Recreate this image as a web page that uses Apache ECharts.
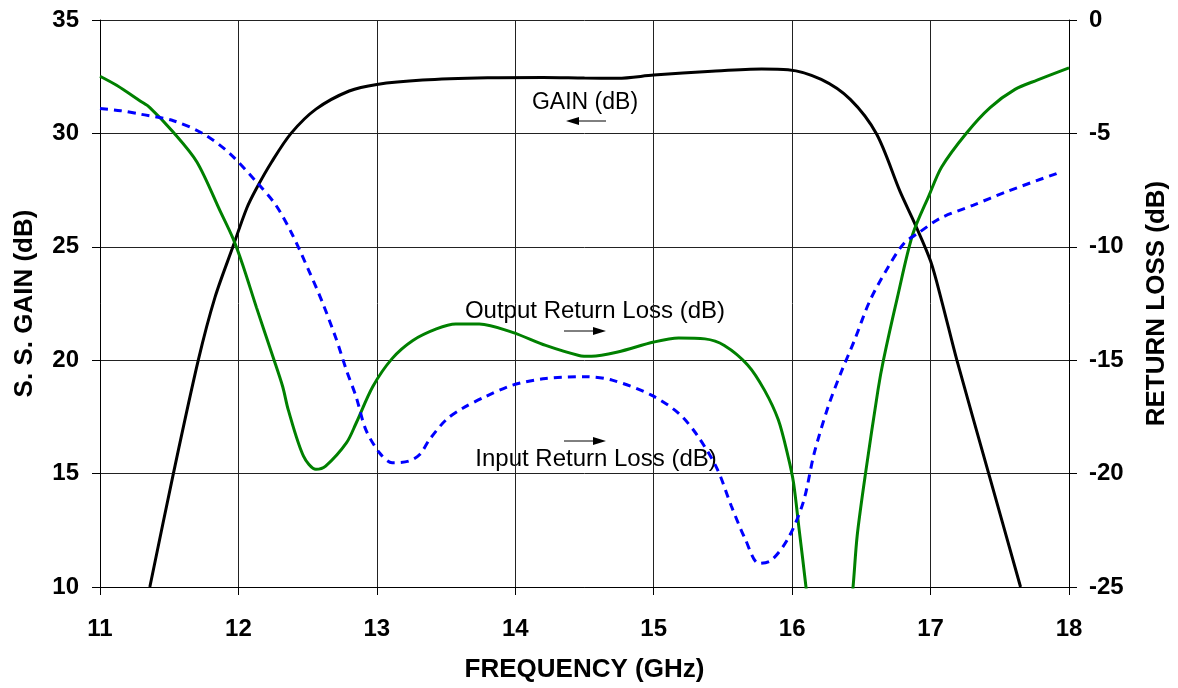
<!DOCTYPE html>
<html>
<head>
<meta charset="utf-8">
<script src="https://cdn.jsdelivr.net/npm/echarts@6/dist/echarts.min.js"></script>
<style>
html,body{margin:0;padding:0;background:#fff;}
#chart{width:1178px;height:688px;}
</style>
</head>
<body>
<div id="chart"></div>
<script>
// Frequency ticks
const freqTicks = [11, 12, 13, 14, 15, 16, 17, 18];
const gainTicks = [10, 15, 20, 25, 30, 35];
const rlTicks = [-25, -20, -15, -10, -5, 0];

// S.S. Gain (dB) — left axis
const gainFreq = [11.36, 11.53, 11.71, 11.83, 11.96, 12.06, 12.13, 12.24, 12.38, 12.56, 12.80, 13.0, 13.33, 13.8, 14.2, 14.5, 14.74, 15.0, 15.42, 15.78, 15.97, 16.21, 16.42, 16.61, 16.78, 16.89, 17.0, 17.08, 17.19, 17.42, 17.65];
const gainVals = [10.0, 15.0, 20.0, 22.76, 25.0, 26.7, 27.57, 28.74, 30.0, 31.07, 31.87, 32.16, 32.35, 32.45, 32.47, 32.44, 32.43, 32.57, 32.74, 32.84, 32.81, 32.38, 31.5, 29.97, 27.43, 25.97, 24.37, 22.62, 20.0, 15.0, 10.0];

// Output Return Loss (dB) — right axis
const outFreq = [11.0, 11.12, 11.29, 11.36, 11.53, 11.70, 11.87, 11.96, 12.03, 12.13, 12.25, 12.32, 12.36, 12.47, 12.56, 12.63, 12.78, 12.85, 12.97, 13.11, 13.26, 13.43, 13.57, 13.74, 13.98, 14.22, 14.46, 14.55, 14.74, 15.0, 15.18, 15.37, 15.51, 15.68, 15.80, 15.90, 15.97, 16.01, 16.05, 16.10, 16.15, 16.27, 16.39, 16.44, 16.47, 16.53, 16.62, 16.66, 16.76, 16.87, 16.99, 17.08, 17.26, 17.43, 17.61, 17.77, 18.0];
const outVals = [-2.48, -2.88, -3.57, -3.86, -4.95, -6.26, -8.45, -9.62, -10.78, -12.67, -14.86, -16.17, -17.19, -19.23, -19.81, -19.67, -18.65, -17.78, -16.17, -14.93, -14.13, -13.62, -13.40, -13.40, -13.77, -14.35, -14.79, -14.83, -14.64, -14.2, -14.02, -14.06, -14.35, -15.22, -16.32, -17.63, -19.23, -20.4, -22.44, -25.0, -28, -32, -28, -25.0, -22.73, -19.99, -16.32, -14.98, -12.24, -9.47, -7.72, -6.48, -4.98, -3.86, -3.06, -2.65, -2.11];

// Input Return Loss (dB) — right axis
const inFreq = [11.0, 11.15, 11.29, 11.53, 11.75, 11.94, 12.13, 12.27, 12.39, 12.51, 12.61, 12.71, 12.78, 12.85, 12.92, 13.02, 13.11, 13.23, 13.31, 13.38, 13.50, 13.62, 13.78, 13.98, 14.22, 14.51, 14.70, 14.98, 15.18, 15.32, 15.46, 15.56, 15.66, 15.76, 15.85, 15.97, 16.08, 16.16, 16.26, 16.35, 16.45, 16.56, 16.69, 16.81, 16.91, 17.07, 17.31, 17.55, 17.91, 17.95];
const inVals = [-3.90, -4.0, -4.15, -4.44, -5.03, -5.90, -7.14, -8.16, -9.47, -11.07, -12.5, -14.13, -15.44, -16.61, -18.06, -19.09, -19.52, -19.45, -19.16, -18.5, -17.63, -17.12, -16.62, -16.1, -15.81, -15.73, -15.88, -16.53, -17.34, -18.36, -19.81, -21.42, -22.87, -23.96, -23.82, -22.87, -21.27, -19.09, -17.05, -15.59, -14.13, -12.4, -10.93, -9.83, -9.40, -8.74, -8.16, -7.57, -6.77, -6.7];

const pairs = (xs, ys) => xs.map((x, i) => [x, ys[i]]);

const FONT = 'Liberation Sans, Arial, sans-serif';
const chart = echarts.init(document.getElementById('chart'), null, {renderer: 'canvas'});

const tickFont = {fontFamily: FONT, fontSize: 24, fontWeight: 'bold', color: '#000'};
const titleFont = {fontFamily: FONT, fontSize: 26, fontWeight: 'bold', color: '#000'};

function arrow(x1, x2, y) {
  const dir = x2 > x1 ? 1 : -1;
  return [
    {type: 'line', shape: {x1: x1, y1: y, x2: x2 - dir * 10, y2: y}, style: {stroke: '#000', lineWidth: 1}},
    {type: 'polygon', shape: {points: [[x2, y], [x2 - dir * 13, y - 4], [x2 - dir * 13, y + 4]]}, style: {fill: '#000'}}
  ];
}

const option = {
  animation: false,
  backgroundColor: '#fff',
  grid: {left: 100, right: 106, top: 20, bottom: 96, containLabel: false},
  xAxis: {
    type: 'value', min: freqTicks[0], max: freqTicks[freqTicks.length - 1], interval: 1,
    name: 'FREQUENCY (GHz)', nameLocation: 'middle', nameGap: 70,
    nameTextStyle: titleFont,
    axisLine: {onZero: false, lineStyle: {color: '#000', width: 1}},
    axisTick: {show: true, inside: false, length: 8, lineStyle: {color: '#000'}},
    axisLabel: Object.assign({margin: 30}, tickFont),
    splitLine: {show: true, lineStyle: {color: '#222', width: 1}}
  },
  yAxis: [
    {
      type: 'value', min: gainTicks[0], max: gainTicks[gainTicks.length - 1], interval: 5, position: 'left',
      name: 'S. S. GAIN (dB)', nameLocation: 'middle', nameGap: 62, nameRotate: 90,
      nameTextStyle: titleFont,
      axisLine: {show: true, onZero: false, lineStyle: {color: '#000', width: 1}},
      axisTick: {show: true, inside: false, length: 8, lineStyle: {color: '#000'}},
      axisLabel: Object.assign({margin: 21, padding: [4, 0, 0, 0]}, tickFont),
      splitLine: {show: true, lineStyle: {color: '#222', width: 1}}
    },
    {
      type: 'value', min: rlTicks[0], max: rlTicks[rlTicks.length - 1], interval: 5, position: 'right',
      name: 'RETURN LOSS (dB)', nameLocation: 'middle', nameGap: 75, nameRotate: 90,
      nameTextStyle: titleFont,
      axisLine: {show: true, onZero: false, lineStyle: {color: '#000', width: 1}},
      axisTick: {show: true, inside: false, length: 8, lineStyle: {color: '#000'}},
      axisLabel: Object.assign({margin: 20, padding: [4, 0, 0, 0]}, tickFont),
      splitLine: {show: false}
    }
  ],
  series: [
    {
      name: 'GAIN (dB)', type: 'line', yAxisIndex: 0, data: pairs(gainFreq, gainVals),
      showSymbol: false, smooth: 0.3, clip: true,
      lineStyle: {color: '#000', width: 3}
    },
    {
      name: 'Output Return Loss (dB)', type: 'line', yAxisIndex: 1, data: pairs(outFreq, outVals),
      showSymbol: false, smooth: 0.3, clip: true,
      lineStyle: {color: '#008000', width: 3}
    },
    {
      name: 'Input Return Loss (dB)', type: 'line', yAxisIndex: 1, data: pairs(inFreq, inVals),
      showSymbol: false, smooth: 0.3, clip: true,
      lineStyle: {color: '#0000ff', width: 3, type: [8, 6]}
    }
  ],
  graphic: [
    {type: 'text', x: 585, y: 103, style: {text: 'GAIN (dB)', font: '23px ' + FONT, fill: '#000', align: 'center', verticalAlign: 'middle'}},
    ...arrow(606, 566, 121),
    {type: 'text', x: 595, y: 311, style: {text: 'Output Return Loss (dB)', font: '24px ' + FONT, fill: '#000', align: 'center', verticalAlign: 'middle'}},
    ...arrow(564, 606, 331),
    {type: 'text', x: 596, y: 459, style: {text: 'Input Return Loss (dB)', font: '24px ' + FONT, fill: '#000', align: 'center', verticalAlign: 'middle'}},
    ...arrow(564, 606, 441)
  ]
};
chart.setOption(option);
</script>
</body>
</html>
